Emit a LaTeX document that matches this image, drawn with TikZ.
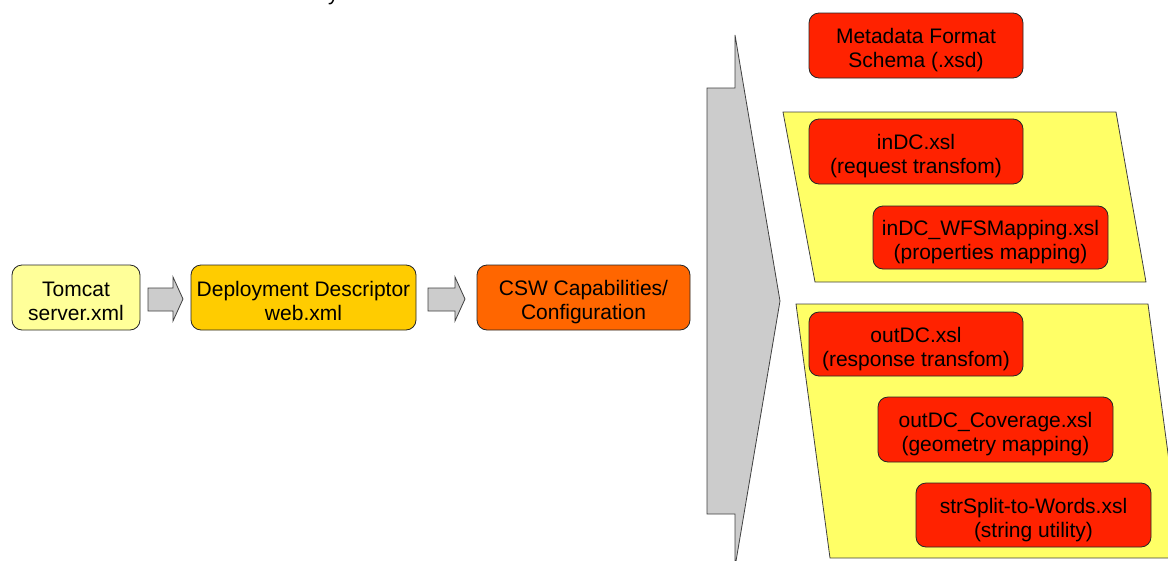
\documentclass[tikz,border=0pt]{standalone}
\usepackage{fontspec}
\setmainfont{Liberation Sans}
\newcommand{\twoln}[2]{\rule{0pt}{25pt}#1\\#2\rule[-4pt]{0pt}{4pt}}
\begin{document}
\begin{tikzpicture}[x=1pt,y=-1pt,
  every node/.style={font=\fontsize{21}{24}\selectfont, align=center, inner sep=0pt},
  box/.style={draw=black!85, line width=0.8pt, rounded corners=10pt, minimum height=65pt},
  redbox/.style={box, fill=cRed},
  band/.style={draw=black!75, line width=0.8pt, fill=cBand},
  blockarrow/.style={draw=black!75, line width=0.8pt, fill=cGray}
]
\definecolor{cRed}{HTML}{FF2200}
\definecolor{cBand}{HTML}{FFFF66}
\definecolor{cGray}{HTML}{CCCCCC}
\definecolor{cTom}{HTML}{FFFF99}
\definecolor{cDep}{HTML}{FFCC00}
\definecolor{cCsw}{HTML}{FF6600}
\useasboundingbox (0,0) rectangle (1168,560);

% fragment of cut-off title
\node[anchor=base west] (title) at (328,0.5) {y};

% big block arrow
\draw[blockarrow] (707,88) -- (735,88) -- (735,35) -- (780,301) -- (735,567) -- (735,514) -- (707,514) -- cycle;

% yellow bands
\draw[band] (783,112) -- (1116,112) -- (1146,282) -- (815,282) -- cycle;
\draw[band] (796,304) -- (1148,304) -- (1182,558) -- (830,558) -- cycle;

% left chain
\node[box, fill=cTom, minimum width=128pt] (tom) at (76,297.5) {\twoln{Tomcat}{server.xml}};
\node[box, fill=cDep, minimum width=225pt] (dep) at (303.5,297.5) {\twoln{Deployment Descriptor}{web.xml}};
\node[box, fill=cCsw, minimum width=213pt] (csw) at (583.5,297.5) {\twoln{CSW Capabilities/}{Configuration}};

% small block arrows
\draw[blockarrow] (148,288) -- (173,288) -- (173,277) -- (183,299) -- (173,321) -- (173,311) -- (148,311) -- cycle;
\draw[blockarrow] (428,288) -- (455,288) -- (455,277) -- (465,299) -- (455,321) -- (455,311) -- (428,311) -- cycle;

% right boxes
\node[redbox, minimum width=214pt] (meta) at (916,45.5) {\twoln{Metadata Format}{Schema (.xsd)}};
\node[redbox, minimum width=214pt] (indc) at (916,151.5) {\twoln{inDC.xsl}{(request transfom)}};
\node[redbox, minimum width=235pt, minimum height=63pt] (wfs) at (990.5,237.5) {\twoln{inDC\_WFSMapping.xsl}{(properties mapping)}};
\node[redbox, minimum width=214pt, minimum height=64pt] (outdc) at (916,344) {\twoln{outDC.xsl}{(response transfom)}};
\node[redbox, minimum width=235pt] (cov) at (995.5,429.5) {\twoln{outDC\_Coverage.xsl}{(geometry mapping)}};
\node[redbox, minimum width=235pt, minimum height=64pt] (str) at (1033.5,515) {\twoln{strSplit-to-Words.xsl}{(string utility)}};
\end{tikzpicture}
\end{document}
